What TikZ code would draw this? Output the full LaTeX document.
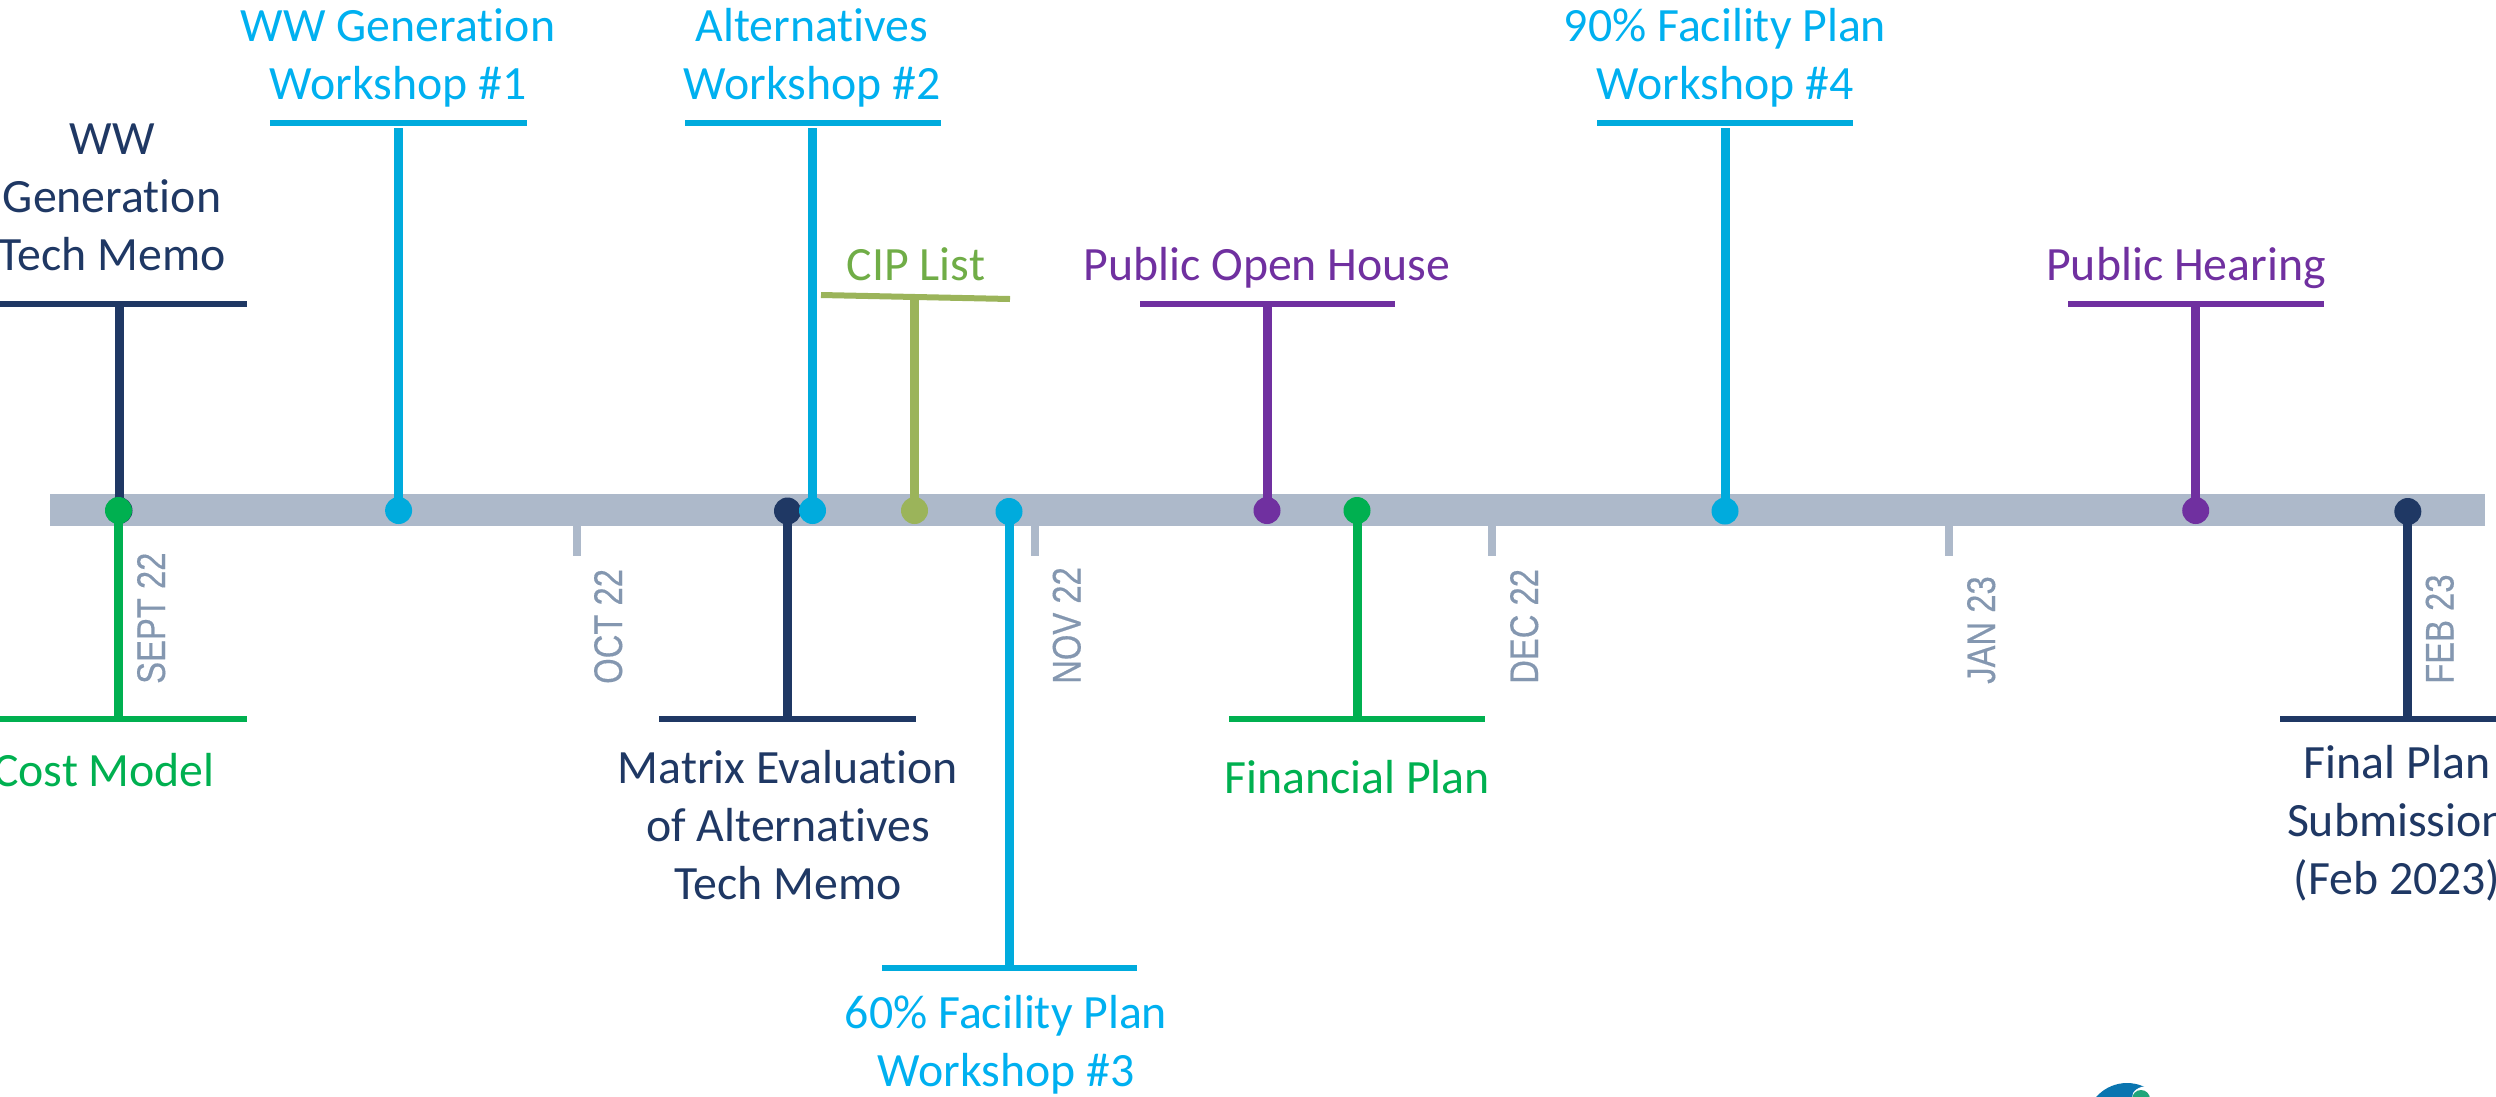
\documentclass[tikz,border=0pt]{standalone}
\usepackage{fontspec}
\setmainfont{Carlito}[Ligatures=CommonOff]
\newfontfamily\datefont[FakeStretch=0.82,FakeBold=0.35]{Liberation Sans}
\definecolor{navy}{HTML}{1F3864}
\definecolor{cyanline}{HTML}{00ABDD}
\definecolor{cyantext}{HTML}{00B0F0}
\definecolor{greenline}{HTML}{00B050}
\definecolor{oliveline}{HTML}{9BB45A}
\definecolor{olivetext}{HTML}{70AD47}
\definecolor{purp}{HTML}{7030A0}
\definecolor{barcol}{HTML}{ADB9CA}
\definecolor{datecol}{HTML}{8497B0}
\definecolor{logoblue}{HTML}{0A75B0}
\definecolor{logogreen}{HTML}{1FA67A}
\tikzset{
  lbl/.style={inner sep=0pt,outer sep=0pt,anchor=base,align=center,font=\fontsize{47.8}{58}\selectfont},
  datelbl/.style={inner sep=0pt,rotate=90,anchor=base west,text=datecol,font=\datefont\fontsize{40}{40}\selectfont},
  dot/.style={circle,inner sep=0pt,minimum size=27pt,fill=#1,draw=none},
  stem/.style={line width=9pt,draw=#1},
  hbar/.style={line width=6pt,draw=#1},
  tick/.style={line width=8pt,draw=barcol},
}
\begin{document}
\begin{tikzpicture}[x=1pt,y=-1pt]
\useasboundingbox (0,0) rectangle (2496,1096);
\clip (0,0) rectangle (2496,1096);
% timeline
\coordinate (barL) at (50,510);
\coordinate (barR) at (2485,510);
\draw[barcol,line width=32pt] (barL) -- (barR);
% month ticks
\foreach \n/\x in {t1/576.5,t2/1035,t3/1492,t4/1949}{
  \coordinate (\n a) at (\x,526);
  \coordinate (\n b) at (\x,556);
  \draw[tick] (\n a) -- (\n b);
}
\node[datelbl] (mSep) at (165,684) {SEPT 22};
\node[datelbl] (mOct) at (622,684) {OCT 22};
\node[datelbl] (mNov) at (1080.5,684) {NOV 22};
\node[datelbl] (mDec) at (1538,684) {DEC 22};
\node[datelbl] (mJan) at (1995,684) {JAN 23};
\node[datelbl] (mFeb) at (2453.5,684) {FEB 23};

% tech memo
\coordinate (hTMa) at (-5,304); \coordinate (hTMb) at (247,304); \coordinate (sTM) at (119,304);
\node[dot=navy] (dTM) at (119,510.5) {};
\draw[stem=navy] (dTM.center) -- (sTM);
\draw[hbar=navy] (hTMa) -- (hTMb);
\node[lbl,text=navy] (lTM) at (112,270) {WW\\Generation\\Tech Memo};

% cost model
\coordinate (hCMa) at (-5,719); \coordinate (hCMb) at (247,719); \coordinate (sCM) at (118.5,719);
\node[dot=greenline] (dCM) at (118.5,510.5) {};
\draw[stem=greenline] (dCM.center) -- (sCM);
\draw[hbar=greenline] (hCMa) -- (hCMb);
\node[lbl,text=greenline] (lCM) at (104,786) {Cost Model};

% workshop 1
\coordinate (hW1a) at (270,122.5); \coordinate (hW1b) at (526.5,122.5); \coordinate (sW1) at (398.6,127.5);
\node[dot=cyanline] (dW1) at (398.6,510.5) {};
\draw[stem=cyanline] (dW1.center) -- (sW1);
\draw[hbar=cyanline] (hW1a) -- (hW1b);
\node[lbl,text=cyantext] (lW1) at (398,99) {WW Generation\\Workshop \#1};

% matrix
\coordinate (hMXa) at (659,719); \coordinate (hMXb) at (916,719); \coordinate (sMX) at (787.5,719);
\node[dot=navy] (dMX) at (787.5,511) {};
\draw[stem=navy] (dMX.center) -- (sMX);
\draw[hbar=navy] (hMXa) -- (hMXb);
\node[lbl,text=navy] (lMX) at (788,899) {Matrix Evaluation\\of Alternatives\\Tech Memo};

% workshop 2
\coordinate (hW2a) at (685,122.5); \coordinate (hW2b) at (941,122.5); \coordinate (sW2) at (812.5,127.5);
\node[dot=cyanline] (dW2) at (812.5,510.5) {};
\draw[stem=cyanline] (dW2.center) -- (sW2);
\draw[hbar=cyanline] (hW2a) -- (hW2b);
\node[lbl,text=cyantext] (lW2) at (812,99) {Alternatives\\Workshop \#2};

% CIP
\coordinate (hCPa) at (821,295); \coordinate (hCPb) at (1010,299); \coordinate (sCP) at (914.5,298);
\node[dot=oliveline] (dCP) at (914.5,510.5) {};
\draw[stem=oliveline] (dCP.center) -- (sCP);
\draw[hbar=oliveline] (hCPa) -- (hCPb);
\node[lbl,text=olivetext] (lCP) at (916,280) {CIP List};

% workshop 3
\coordinate (hW3a) at (882,968); \coordinate (hW3b) at (1137,968); \coordinate (sW3) at (1009,968);
\node[dot=cyanline] (dW3) at (1009,511.5) {};
\draw[stem=cyanline] (dW3.center) -- (sW3);
\draw[hbar=cyanline] (hW3a) -- (hW3b);
\node[lbl,text=cyantext] (lW3) at (1006,1086) {60\% Facility Plan\\Workshop \#3};

% open house
\coordinate (hOHa) at (1140,304); \coordinate (hOHb) at (1395,304); \coordinate (sOH) at (1267,304);
\node[dot=purp] (dOH) at (1267,510.5) {};
\draw[stem=purp] (dOH.center) -- (sOH);
\draw[hbar=purp] (hOHa) -- (hOHb);
\node[lbl,text=purp] (lOH) at (1267,280) {Public Open House};

% financial
\coordinate (hFPa) at (1229,719); \coordinate (hFPb) at (1485,719); \coordinate (sFP) at (1357,719);
\node[dot=greenline] (dFP) at (1357,510.5) {};
\draw[stem=greenline] (dFP.center) -- (sFP);
\draw[hbar=greenline] (hFPa) -- (hFPb);
\node[lbl,text=greenline] (lFP) at (1357,793) {Financial Plan};

% workshop 4
\coordinate (hW4a) at (1597,122.5); \coordinate (hW4b) at (1853,122.5); \coordinate (sW4) at (1725,127.5);
\node[dot=cyanline] (dW4) at (1725,511) {};
\draw[stem=cyanline] (dW4.center) -- (sW4);
\draw[hbar=cyanline] (hW4a) -- (hW4b);
\node[lbl,text=cyantext] (lW4) at (1725,99) {90\% Facility Plan\\Workshop \#4};

% hearing
\coordinate (hPHa) at (2068,304); \coordinate (hPHb) at (2324,304); \coordinate (sPH) at (2195.7,304);
\node[dot=purp] (dPH) at (2195.7,510.5) {};
\draw[stem=purp] (dPH.center) -- (sPH);
\draw[hbar=purp] (hPHa) -- (hPHb);
\node[lbl,text=purp] (lPH) at (2186,280) {Public Hearing};

% final
\coordinate (hFNa) at (2280,718.5); \coordinate (hFNb) at (2500,718.5); \coordinate (sFN) at (2407.8,718.5);
\node[dot=navy] (dFN) at (2407.8,511.5) {};
\draw[stem=navy] (dFN.center) -- (sFN);
\draw[hbar=navy] (hFNa) -- (hFNb);
\node[lbl,text=navy] (lFN) at (2397,894) {Final Plan\\Submission\\(Feb 2023)};

% logo fragment at the bottom edge
\fill[logoblue] (2127,1124) circle (41);
\fill[white] (2148,1097) ellipse (16 and 11);
\fill[logogreen] (2141,1099) ellipse (9 and 9);
\end{tikzpicture}
\end{document}
